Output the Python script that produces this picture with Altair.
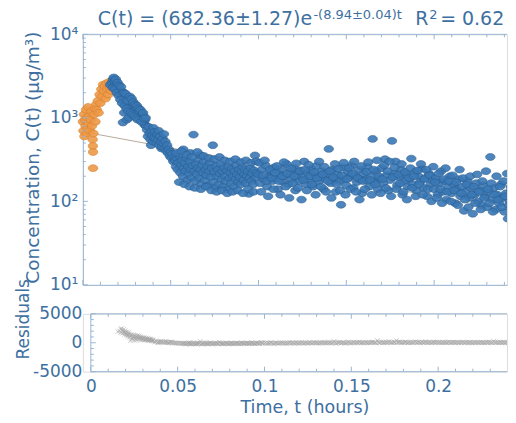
import altair as alt
import pandas as pd

# ---------------- data ----------------
orange_pts = [
    (0.0000, 900), (0.0003, 700), (0.0006, 1100), (0.0009, 600), (0.0012, 950),
    (0.0015, 800), (0.0018, 1250), (0.0021, 650), (0.0024, 1000), (0.0027, 750),
    (0.0030, 1350), (0.0033, 850), (0.0036, 1050), (0.0040, 700), (0.0044, 950),
    (0.0048, 1200), (0.0052, 800), (0.0056, 550), (0.0057, 460), (0.0058, 390),
    (0.0058, 250), (0.0060, 650), (0.0064, 1100), (0.0068, 1300), (0.0072, 900),
    (0.0076, 1450), (0.0080, 1250), (0.0085, 1600), (0.0090, 1150), (0.0095, 1900),
    (0.0100, 1500), (0.0105, 2200), (0.0110, 1800), (0.0115, 2500), (0.0120, 2100),
    (0.0125, 2400), (0.0130, 1700), (0.0135, 2600), (0.0140, 2200), (0.0145, 1900),
    (0.0150, 2700), (0.0155, 2300), (0.0160, 2100), (0.0165, 2500), (0.0170, 2800),
]

blue_peak = [
    (0.0155, 2500), (0.0165, 2650), (0.0172, 2900), (0.0176, 3050), (0.0180, 2750),
    (0.0185, 2600), (0.0190, 2450), (0.0195, 2300), (0.0200, 2350), (0.0205, 2150),
    (0.0210, 2000), (0.0215, 1900), (0.0220, 2100), (0.0225, 1850), (0.0228, 880),
    (0.0230, 1750), (0.0235, 1150), (0.0240, 1700), (0.0245, 1600), (0.0250, 950),
    (0.0255, 1800), (0.0260, 1500), (0.0262, 1000), (0.0265, 1650), (0.0270, 1400),
    (0.0275, 1550), (0.0280, 1300), (0.0285, 1450), (0.0290, 1350), (0.0295, 1250),
    (0.0300, 1200), (0.0305, 1300), (0.0310, 1100), (0.0315, 1150), (0.0320, 1050),
    (0.0325, 950), (0.0330, 1000), (0.0335, 1150), (0.0338, 1120), (0.0340, 900),
    (0.0345, 1050), (0.0350, 850), (0.0352, 820), (0.0355, 950), (0.0360, 800),
]

blue_peak_b = [
    (0.0170, 2300), (0.0182, 2200), (0.0188, 2900), (0.0193, 2000), (0.0198, 2650),
    (0.0203, 1850), (0.0208, 2450), (0.0213, 1650), (0.0218, 2350), (0.0223, 1500),
    (0.0233, 2000), (0.0238, 1400), (0.0243, 1950), (0.0248, 1300), (0.0253, 1600),
    (0.0258, 1200), (0.0268, 1800), (0.0273, 1150), (0.0278, 1700), (0.0283, 1100),
    (0.0288, 1550), (0.0293, 1050), (0.0298, 1450), (0.0303, 1000), (0.0308, 1400),
    (0.0313, 950), (0.0318, 1300), (0.0323, 1200), (0.0328, 1250), (0.0333, 900),
    (0.0343, 1150), (0.0348, 980), (0.0358, 1000),
]

blue_knee = [
    (0.0365, 720), (0.0370, 600), (0.0375, 780), (0.0380, 650), (0.0385, 550),
    (0.0388, 470), (0.0390, 690), (0.0395, 620), (0.0400, 520), (0.0402, 760),
    (0.0405, 580), (0.0410, 680), (0.0415, 560), (0.0420, 500), (0.0425, 640),
    (0.0430, 540), (0.0432, 700), (0.0435, 470), (0.0440, 600), (0.0445, 510),
    (0.0448, 430), (0.0450, 450), (0.0455, 560), (0.0460, 490), (0.0462, 640),
    (0.0465, 430), (0.0470, 520), (0.0475, 400), (0.0480, 470), (0.0485, 380),
    (0.0490, 420), (0.0495, 350), (0.0500, 390), (0.0505, 330), (0.0510, 370),
    (0.0515, 300), (0.0520, 340),
]

blue_mid = [
    (0.0525, 310), (0.0530, 260), (0.0535, 330), (0.0540, 240), (0.0545, 290),
    (0.0550, 350), (0.0555, 220), (0.0560, 270), (0.0565, 310), (0.0570, 200),
    (0.0572, 420), (0.0575, 250), (0.0580, 290), (0.0585, 230), (0.0590, 330),
    (0.0595, 180), (0.0600, 260), (0.0605, 215), (0.0610, 300), (0.0612, 380),
    (0.0615, 240), (0.0620, 190), (0.0625, 270), (0.0630, 630), (0.0635, 230),
    (0.0640, 175), (0.0645, 280), (0.0650, 210), (0.0655, 250), (0.0660, 320),
    (0.0665, 190), (0.0668, 360), (0.0670, 240), (0.0675, 160), (0.0680, 270),
    (0.0685, 220), (0.0690, 300), (0.0695, 180), (0.0700, 240), (0.0705, 205),
    (0.0710, 260), (0.0715, 155), (0.0720, 230), (0.0725, 290), (0.0730, 195),
    (0.0735, 250), (0.0740, 470), (0.0745, 170), (0.0750, 225), (0.0755, 145),
    (0.0760, 265), (0.0765, 200), (0.0770, 240), (0.0775, 160), (0.0780, 215),
    (0.0785, 280), (0.0790, 185), (0.0795, 230), (0.0800, 150), (0.0805, 250),
    (0.0810, 200), (0.0815, 175), (0.0820, 235), (0.0825, 140), (0.0830, 260),
    (0.0835, 190), (0.0840, 220), (0.0845, 165), (0.0850, 245), (0.0855, 200),
    (0.0860, 150), (0.0865, 230), (0.0870, 185), (0.0875, 270), (0.0880, 210),
    (0.0885, 170), (0.0890, 240), (0.0895, 195), (0.0900, 160), (0.0905, 225),
    (0.0910, 260), (0.0915, 180), (0.0920, 210), (0.0925, 240), (0.0930, 165),
    (0.0935, 200), (0.0940, 230), (0.0945, 123), (0.0950, 190), (0.0955, 250),
    (0.0960, 175), (0.0965, 215), (0.0970, 160), (0.0975, 235), (0.0980, 355),
    (0.0985, 195), (0.0990, 220),
]

blue_mid_edges = [
    (0.0532, 380), (0.0548, 170), (0.0562, 400), (0.0578, 160), (0.0592, 360),
    (0.0608, 150), (0.0622, 340), (0.0638, 145), (0.0652, 390), (0.0672, 140),
    (0.0688, 350), (0.0702, 150), (0.0718, 330), (0.0732, 135), (0.0748, 320),
    (0.0762, 130), (0.0778, 340), (0.0792, 135), (0.0808, 310), (0.0822, 125),
    (0.0838, 300), (0.0852, 130), (0.0868, 320), (0.0882, 135), (0.0898, 295),
    (0.0912, 125), (0.0928, 310), (0.0942, 140), (0.0958, 290), (0.0972, 130),
    (0.0988, 300),
]

blue_late = [
    (0.100, 210), (0.101, 165), (0.102, 240), (0.103, 185), (0.104, 270),
    (0.105, 150), (0.106, 200), (0.107, 230), (0.108, 175), (0.109, 255),
    (0.110, 190), (0.111, 140), (0.112, 215), (0.113, 245), (0.114, 170),
    (0.115, 200), (0.116, 280), (0.117, 160), (0.118, 225), (0.119, 185),
    (0.120, 250), (0.121, 135), (0.122, 205), (0.123, 175), (0.124, 235),
    (0.125, 195), (0.126, 300), (0.127, 160), (0.128, 220), (0.129, 180),
    (0.130, 245), (0.131, 150), (0.132, 205), (0.133, 265), (0.134, 170),
    (0.135, 195), (0.136, 230), (0.137, 140), (0.138, 185), (0.139, 215),
    (0.140, 425), (0.141, 165), (0.142, 240), (0.143, 190), (0.144, 130),
    (0.145, 210), (0.146, 175), (0.147, 91), (0.148, 255), (0.149, 185),
    (0.150, 155), (0.151, 225), (0.152, 195), (0.153, 270), (0.154, 145),
    (0.155, 205), (0.156, 170), (0.157, 240), (0.158, 185), (0.159, 125),
    (0.160, 215), (0.161, 180), (0.162, 260), (0.163, 150), (0.164, 200),
    (0.165, 560), (0.166, 170), (0.167, 230), (0.168, 140), (0.169, 190),
    (0.170, 250), (0.171, 165), (0.172, 320), (0.173, 205), (0.174, 135),
    (0.175, 180), (0.176, 530), (0.177, 215), (0.178, 300), (0.179, 155),
    (0.180, 195), (0.181, 240), (0.182, 120), (0.183, 175), (0.184, 210),
    (0.185, 150), (0.186, 185), (0.187, 325), (0.188, 160), (0.189, 225),
    (0.190, 135), (0.191, 200), (0.192, 170), (0.193, 245), (0.194, 145),
    (0.195, 190), (0.196, 115), (0.197, 215), (0.198, 160), (0.199, 180),
]

blue_late_b = [
    (0.1005, 290), (0.1015, 130), (0.1025, 205), (0.1035, 310), (0.1045, 175),
    (0.1055, 115), (0.1065, 240), (0.1075, 190), (0.1085, 140), (0.1095, 220),
    (0.1105, 265), (0.1115, 175), (0.1125, 120), (0.1135, 200), (0.1145, 295),
    (0.1155, 150), (0.1165, 215), (0.1175, 110), (0.1185, 250), (0.1195, 165),
    (0.1205, 200), (0.1215, 285), (0.1225, 145), (0.1235, 230), (0.1245, 105),
    (0.1255, 180), (0.1265, 240), (0.1275, 135), (0.1285, 275), (0.1295, 200),
    (0.1305, 160), (0.1315, 225), (0.1325, 120), (0.1335, 190), (0.1345, 300),
    (0.1355, 150), (0.1365, 210), (0.1375, 260), (0.1385, 130), (0.1395, 175),
    (0.1405, 230), (0.1415, 110), (0.1425, 195), (0.1435, 280), (0.1445, 160),
    (0.1455, 245), (0.1465, 135), (0.1475, 205), (0.1485, 290), (0.1495, 120),
    (0.1505, 185), (0.1515, 250), (0.1525, 140), (0.1535, 215), (0.1545, 300),
    (0.1555, 130), (0.1565, 190), (0.1575, 105), (0.1585, 265), (0.1595, 175),
    (0.1605, 140), (0.1615, 225), (0.1625, 295), (0.1635, 180), (0.1645, 120),
    (0.1655, 240), (0.1665, 160), (0.1675, 310), (0.1685, 200), (0.1695, 125),
    (0.1705, 185), (0.1715, 270), (0.1725, 145), (0.1735, 230), (0.1745, 300),
    (0.1755, 115), (0.1765, 195), (0.1775, 255), (0.1785, 140), (0.1795, 210),
    (0.1805, 165), (0.1815, 280), (0.1825, 130), (0.1835, 225), (0.1845, 105),
    (0.1855, 190), (0.1865, 250), (0.1875, 145), (0.1885, 200), (0.1895, 115),
    (0.1905, 235), (0.1915, 160), (0.1925, 280), (0.1935, 120), (0.1945, 185),
    (0.1955, 240), (0.1965, 140), (0.1975, 205), (0.1985, 100), (0.1995, 260),
]

blue_tail = [
    (0.200, 140), (0.201, 190), (0.202, 120), (0.203, 165), (0.204, 230),
    (0.205, 130), (0.206, 175), (0.207, 105), (0.208, 150), (0.209, 200),
    (0.210, 125), (0.211, 160), (0.212, 95), (0.213, 140), (0.214, 185),
    (0.215, 115), (0.216, 150), (0.217, 77), (0.218, 130), (0.219, 175),
    (0.220, 110), (0.221, 145), (0.222, 71), (0.223, 120), (0.224, 165),
    (0.225, 100), (0.226, 135), (0.227, 90), (0.228, 155), (0.229, 115),
    (0.230, 85), (0.231, 130), (0.232, 340), (0.233, 105), (0.234, 145),
    (0.235, 80), (0.236, 120), (0.237, 95), (0.238, 160), (0.239, 110),
    (0.240, 75), (0.241, 125), (0.242, 62), (0.243, 100), (0.244, 135),
]

blue_tail_b = [
    (0.2005, 170), (0.2015, 110), (0.2025, 215), (0.2035, 140), (0.2045, 95),
    (0.2055, 185), (0.2065, 250), (0.2075, 130), (0.2085, 175), (0.2095, 100),
    (0.2105, 205), (0.2115, 135), (0.2125, 170), (0.2135, 90), (0.2145, 240),
    (0.2155, 125), (0.2165, 190), (0.2175, 105), (0.2185, 160), (0.2195, 85),
    (0.2205, 200), (0.2215, 120), (0.2225, 150), (0.2235, 95), (0.2245, 210),
    (0.2255, 130), (0.2265, 80), (0.2275, 175), (0.2285, 110), (0.2295, 230),
    (0.2305, 140), (0.2315, 95), (0.2325, 165), (0.2335, 75), (0.2345, 120),
    (0.2355, 200), (0.2365, 105), (0.2375, 150), (0.2385, 85), (0.2395, 175),
    (0.2405, 115), (0.2415, 215), (0.2425, 90), (0.2435, 150), (0.2445, 70),
]

# fit read from the title: C(t) = 682.36 e^(-8.94 t)
fit_a = 682.36
fit_k = 8.94
fit_t = [0.0, 0.25]
fit_c = [682.36, 73.1]

# axis tick positions
x_major = [0, 0.05, 0.1, 0.15, 0.2]
x_minor = [0.01, 0.02, 0.03, 0.04, 0.06, 0.07, 0.08, 0.09, 0.11, 0.12, 0.13, 0.14,
           0.16, 0.17, 0.18, 0.19, 0.21, 0.22, 0.23, 0.24]
y_major = [10, 100, 1000, 10000]
y_minor = [20, 30, 40, 50, 60, 70, 80, 90, 200, 300, 400, 500, 600, 700, 800, 900,
           2000, 3000, 4000, 5000, 6000, 7000, 8000, 9000]
r_major = [-5000, 0, 5000]
r_minor = [-4000, -3000, -2000, -1000, 1000, 2000, 3000, 4000]

# ---------------- styling ----------------
FONT = "DejaVu Sans"
TXT = "#3d6fa0"
AXC = "#9ab6d2"
W = 425
H1 = 251
H2 = 58
ELL = "M -1 0 A 1 0.72 0 1 0 1 0 A 1 0.72 0 1 0 -1 0 Z"
XMARK = "M -1 -1 L 1 1 M -1 1 L 1 -1"


def pts_df(*lists):
    rows = [p for lst in lists for p in lst]
    return pd.DataFrame(rows, columns=["t", "c"])


orange_df = pts_df(orange_pts)
blue_df = pts_df(blue_peak, blue_peak_b, blue_knee, blue_mid, blue_mid_edges, blue_late,
                 blue_late_b, blue_tail, blue_tail_b)
fit_df = pd.DataFrame({"t": fit_t, "c": fit_c})
one = pd.DataFrame({"k": [0]})
xmaj_df = pd.DataFrame({"t": x_major})
xmin_df = pd.DataFrame({"t": x_minor})
ymaj_df = pd.DataFrame({"c": y_major})
ymin_df = pd.DataFrame({"c": y_minor})
rmaj_df = pd.DataFrame({"r": r_major})
rmin_df = pd.DataFrame({"r": r_minor})
zero_df = pd.DataFrame({"t": [0.0]})

# ---------------- top panel ----------------
xs1 = alt.Scale(domain=[0, W / 1760], nice=False, zero=False)
ys1 = alt.Scale(type="log", domain=[10, 10000], nice=False)

x_ax1 = alt.Axis(values=x_major, labels=False, ticks=False, tickSize=0, grid=False,
                 domain=True, domainColor=AXC, title=None)
y_ax1 = alt.Axis(values=y_major, ticks=False, tickSize=0, grid=False, domain=True,
                 domainColor=AXC,
                 labelExpr="'10' + (datum.value < 50 ? '¹' : datum.value < 500 ? '²' : datum.value < 5000 ? '³' : '⁴')",
                 labelFont=FONT, labelFontSize=17, labelColor=TXT, labelPadding=5,
                 title="Concentration, C(t) (μg/m³)", titleFont=FONT, titleFontSize=18.5,
                 titleFontWeight="normal", titleColor=TXT, titleAngle=270,
                 titleAlign="center", titleBaseline="alphabetic", titleX=-44, titleY=123)


def X1():
    return alt.X("t:Q", scale=xs1, axis=x_ax1)


def Y1():
    return alt.Y("c:Q", scale=ys1, axis=y_ax1)


fit_line = alt.Chart(fit_df).mark_line(color="#b8aa9c", strokeWidth=1, clip=True).encode(x=X1(), y=Y1())
orange = alt.Chart(orange_df).mark_point(shape=ELL, size=90, filled=True, fill="#ee9a48",
                                         stroke="#d7812f", strokeWidth=0.7, opacity=0.9
                                         ).encode(x=X1(), y=Y1())
blue = alt.Chart(blue_df).mark_point(shape=ELL, size=90, filled=True, fill="#3a78b5",
                                     stroke="#2a5f93", strokeWidth=0.7, opacity=0.9,
                                     clip=True).encode(x=X1(), y=Y1())

tk = dict(color=AXC, strokeWidth=1)
top_layers = [
    fit_line, orange, blue,
    alt.Chart(xmaj_df).mark_rule(**tk).encode(x=X1(), y=alt.value(H1), y2=alt.value(H1 - 5)),
    alt.Chart(xmin_df).mark_rule(**tk).encode(x=X1(), y=alt.value(H1), y2=alt.value(H1 - 3)),
    alt.Chart(xmaj_df).mark_rule(**tk).encode(x=X1(), y=alt.value(0), y2=alt.value(5)),
    alt.Chart(xmin_df).mark_rule(**tk).encode(x=X1(), y=alt.value(0), y2=alt.value(3)),
    alt.Chart(ymaj_df).mark_rule(**tk).encode(y=Y1(), x=alt.value(0), x2=alt.value(5)),
    alt.Chart(ymin_df).mark_rule(**tk).encode(y=Y1(), x=alt.value(0), x2=alt.value(3)),
    alt.Chart(one).mark_rule(**tk).encode(x=alt.value(0), x2=alt.value(W), y=alt.value(0)),
    # title pieces
    alt.Chart(one).mark_text(text="C(t) = (682.36±1.27)e", align="left", baseline="alphabetic",
                             font=FONT, fontSize=19, color=TXT).encode(x=alt.value(15), y=alt.value(-9)),
    alt.Chart(one).mark_text(text="-(8.94±0.04)t", align="left", baseline="alphabetic",
                             font=FONT, fontSize=13, color=TXT).encode(x=alt.value(231), y=alt.value(-15)),
    alt.Chart(one).mark_text(text="R", align="left", baseline="alphabetic",
                             font=FONT, fontSize=19, color=TXT).encode(x=alt.value(333), y=alt.value(-9)),
    alt.Chart(one).mark_text(text="2", align="left", baseline="alphabetic",
                             font=FONT, fontSize=13, color=TXT).encode(x=alt.value(347), y=alt.value(-15)),
    alt.Chart(one).mark_text(text="= 0.62", align="left", baseline="alphabetic",
                             font=FONT, fontSize=19, color=TXT).encode(x=alt.value(358), y=alt.value(-9)),
    # invisible anchor fixing the left/top extent
    alt.Chart(one).mark_point(opacity=0, size=1).encode(x=alt.value(-74), y=alt.value(-24)),
]
top = alt.layer(*top_layers).properties(width=W, height=H1)

# ---------------- bottom panel (residuals) ----------------
xs2 = alt.Scale(domain=[-8 / 1740, (W - 8) / 1740], nice=False, zero=False)
ys2 = alt.Scale(domain=[-5000, 5000], nice=False)

x_ax2 = alt.Axis(values=x_major, format="~g", labelFlush=False, ticks=False, tickSize=0,
                 grid=False, domain=False, labelFont=FONT, labelFontSize=17, labelColor=TXT,
                 labelPadding=7, title="Time, t (hours)", titleFont=FONT, titleFontSize=17.5,
                 titleFontWeight="normal", titleColor=TXT, titleX=222, titleY=41,
                 titleAlign="center", titleBaseline="alphabetic")
y_ax2 = alt.Axis(values=r_major, labelExpr="(datum.value < 0 ? '-' : '') + format(abs(datum.value), 'd')",
                 ticks=False, tickSize=0, grid=False, domain=False, labelFont=FONT,
                 labelFontSize=17, labelColor=TXT, labelPadding=1,
                 title="Residuals", titleFont=FONT, titleFontSize=17, titleFontWeight="normal",
                 titleColor=TXT, titleAngle=270, titleAlign="center", titleBaseline="alphabetic",
                 titleX=-54, titleY=5)


def X2():
    return alt.X("t:Q", scale=xs2, axis=x_ax2)


def Y2():
    return alt.Y("r:Q", scale=ys2, axis=y_ax2)


resid = alt.Chart(blue_df).transform_calculate(
    r=f"datum.c - {fit_a} * exp(-{fit_k} * datum.t)"
).mark_point(shape=XMARK, size=20, filled=False, color="#a4a4a4", strokeWidth=0.8,
             clip=True).encode(x=X2(), y=Y2())

bottom_layers = [
    resid,
    alt.Chart(zero_df).mark_rule(**tk).encode(x=X2(), y=alt.value(0), y2=alt.value(H2)),
    alt.Chart(zero_df).mark_rule(**tk).encode(x=X2(), x2=alt.value(W), y=alt.value(0)),
    alt.Chart(zero_df).mark_rule(**tk).encode(x=X2(), x2=alt.value(W), y=alt.value(H2)),
    alt.Chart(xmaj_df).mark_rule(clip=True, **tk).encode(x=X2(), y=alt.value(H2), y2=alt.value(H2 - 5)),
    alt.Chart(xmin_df).mark_rule(clip=True, **tk).encode(x=X2(), y=alt.value(H2), y2=alt.value(H2 - 3)),
    alt.Chart(xmaj_df).mark_rule(clip=True, **tk).encode(x=X2(), y=alt.value(0), y2=alt.value(5)),
    alt.Chart(xmin_df).mark_rule(clip=True, **tk).encode(x=X2(), y=alt.value(0), y2=alt.value(3)),
    alt.Chart(rmaj_df).mark_rule(**tk).encode(y=Y2(), x=alt.value(8), x2=alt.value(13)),
    alt.Chart(rmin_df).mark_rule(**tk).encode(y=Y2(), x=alt.value(8), x2=alt.value(11)),
    alt.Chart(one).mark_point(opacity=0, size=1).encode(x=alt.value(-74), y=alt.value(20)),
]
bottom = alt.layer(*bottom_layers).properties(width=W, height=H2)

chart = alt.concat(top, bottom, columns=1, spacing=29, bounds="flush").properties(
    padding={"left": 0, "top": 0, "right": 0, "bottom": 0}
).configure_view(stroke=None).configure(font=FONT, background="white")

chart.save("out.html", embed_options={"renderer": "svg", "actions": False})
